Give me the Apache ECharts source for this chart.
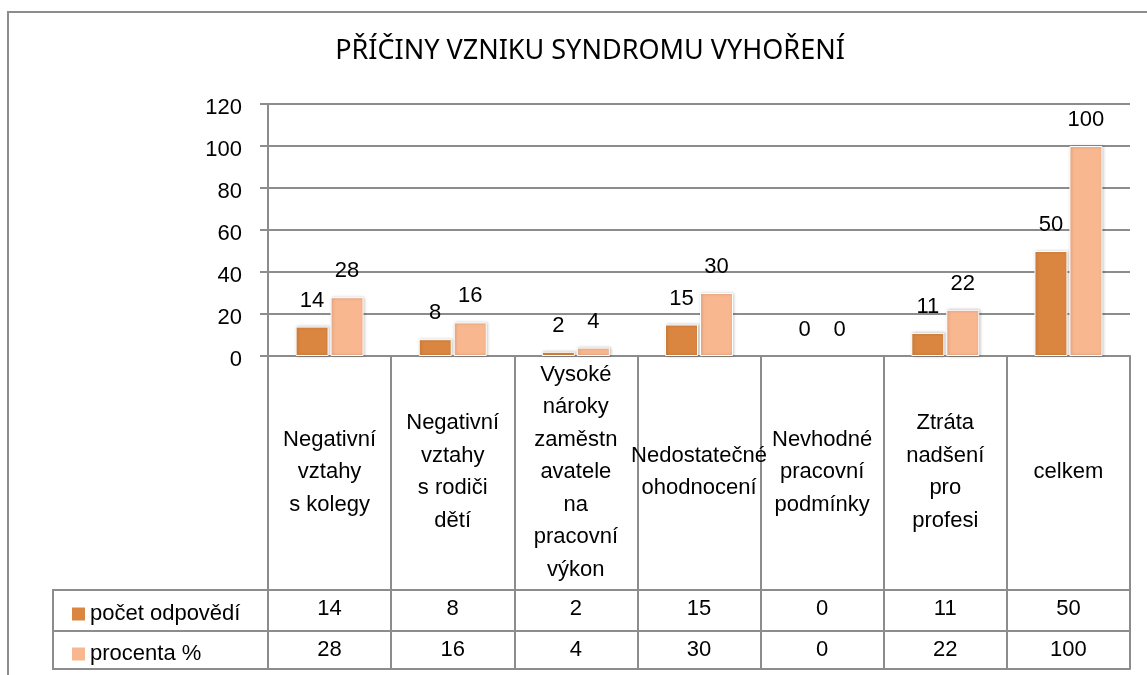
<!DOCTYPE html>
<html>
<head>
<meta charset="utf-8">
<script src="https://cdn.jsdelivr.net/npm/echarts@6/dist/echarts.min.js"></script>
<style>
  html, body { margin: 0; padding: 0; background: #fff; }
  #chart { width: 1147px; height: 675px; }
</style>
</head>
<body>
<div id="chart"></div>
<script>
// popisky kategorií (zalomení jako v originále)
const categories = [
  "Negativní\nvztahy\ns kolegy",
  "Negativní\nvztahy\ns rodiči\ndětí",
  "Vysoké\nnároky\nzaměstn\navatele\nna\npracovní\nvýkon",
  "Nedostatečné\nohodnocení",
  "Nevhodné\npracovní\npodmínky",
  "Ztráta\nnadšení\npro\nprofesi",
  "celkem",
];
const pocetOdpovedi = [14, 8, 2, 15, 0, 11, 50];
const procenta = [28, 16, 4, 30, 0, 22, 100];
const seriesNames = ["počet odpovědí", "procenta %"];
const yTicks = { min: 0, max: 120, interval: 20 };

const FONT = "Liberation Sans, Arial, sans-serif";
const FS = 22;
const GRID_COLOR = "#8c8c8c";
const DARK = "#db8640";
const LIGHT = "#f8b78f";

const chart = echarts.init(document.getElementById("chart"));

// pomocná osa pro řádek datové tabulky
const tableAxis = (offset, values) => ({
  type: "category",
  gridIndex: 0,
  position: "bottom",
  offset: offset,
  data: categories,
  axisLine: { show: true, lineStyle: { color: GRID_COLOR, width: 2 } },
  axisTick: { show: false },
  axisLabel: {
    show: !!values,
    interval: 0,
    margin: 19,
    verticalAlign: "middle",
    fontFamily: FONT,
    fontSize: FS,
    color: "#000",
    formatter: (v, i) => (values ? String(values[i]) : ""),
  },
});

// nulové sloupce bez rámečku a stínu
const barData = (values) =>
  values.map((v) => (v === 0 ? { value: v, itemStyle: { borderWidth: 0, shadowBlur: 0, shadowOffsetX: 0 } } : v));

const barStyle = (color) => ({
  color: color,
  borderColor: "#fff",
  borderWidth: 1,
  shadowColor: "rgba(0,0,0,0.25)",
  shadowBlur: 3,
  shadowOffsetX: 1,
});

const barLabel = {
  show: true,
  position: "top",
  distance: 15,
  fontFamily: FONT,
  fontSize: FS,
  color: "#000",
};

chart.setOption({
  animation: false,
  backgroundColor: "#fff",
  title: {
    text: "PŘÍČINY VZNIKU SYNDROMU VYHOŘENÍ",
    left: 585,
    textAlign: "center",
    top: 33,
    textStyle: { fontFamily: "Noto Sans, sans-serif", fontSize: 27, fontWeight: "normal", color: "#000" },
  },
  legend: {
    orient: "vertical",
    left: 67,
    top: 598,
    itemWidth: 13,
    itemHeight: 13,
    itemGap: 18,
    icon: "rect",
    itemStyle: { borderWidth: 0, shadowBlur: 0 },
    textStyle: { fontFamily: FONT, fontSize: FS, color: "#000" },
    data: seriesNames,
  },
  grid: {
    left: 268,
    right: 17,
    top: 104,
    bottom: 319,
    containLabel: false,
    outerBoundsMode: "none",
  },
  xAxis: [
    {
      type: "category",
      data: categories,
      axisLine: { show: true, lineStyle: { color: GRID_COLOR, width: 2 } },
      axisTick: { show: true, length: 313, lineStyle: { color: GRID_COLOR, width: 2 } },
      axisLabel: {
        interval: 0,
        margin: 116,
        verticalAlign: "middle",
        lineHeight: 32.5,
        fontFamily: FONT,
        fontSize: FS,
        color: "#000",
      },
    },
    tableAxis(234, pocetOdpovedi),
    tableAxis(275, procenta),
    tableAxis(313, null),
  ],
  yAxis: {
    type: "value",
    min: yTicks.min,
    max: yTicks.max,
    interval: yTicks.interval,
    axisLine: { show: true, lineStyle: { color: GRID_COLOR, width: 2 } },
    axisTick: { show: true, length: 8, lineStyle: { color: GRID_COLOR, width: 2 } },
    splitLine: { show: true, lineStyle: { color: GRID_COLOR, width: 2 } },
    axisLabel: {
      margin: 26,
      verticalAlign: "top",
      lineHeight: 8,
      fontFamily: FONT,
      fontSize: FS,
      color: "#000",
    },
  },
  graphic: [
    // vnější rámeček grafu
    {
      type: "rect",
      shape: { x: 8, y: 12, width: 1170, height: 700 },
      style: { fill: "none", stroke: GRID_COLOR, lineWidth: 2 },
      z: -1,
    },
    // levý sloupec datové tabulky (legenda)
    {
      type: "polyline",
      shape: { points: [[268, 590], [53, 590], [53, 669], [268, 669]] },
      style: { fill: "none", stroke: GRID_COLOR, lineWidth: 2 },
    },
    {
      type: "line",
      shape: { x1: 53, y1: 631, x2: 268, y2: 631 },
      style: { stroke: GRID_COLOR, lineWidth: 2 },
    },
  ],
  series: [
    {
      name: seriesNames[0],
      type: "bar",
      barWidth: 33,
      barGap: "6%",
      data: barData(pocetOdpovedi),
      itemStyle: barStyle(DARK),
      label: barLabel,
    },
    {
      name: seriesNames[1],
      type: "bar",
      barWidth: 33,
      data: barData(procenta),
      itemStyle: barStyle(LIGHT),
      label: barLabel,
    },
  ],
});
</script>
</body>
</html>
